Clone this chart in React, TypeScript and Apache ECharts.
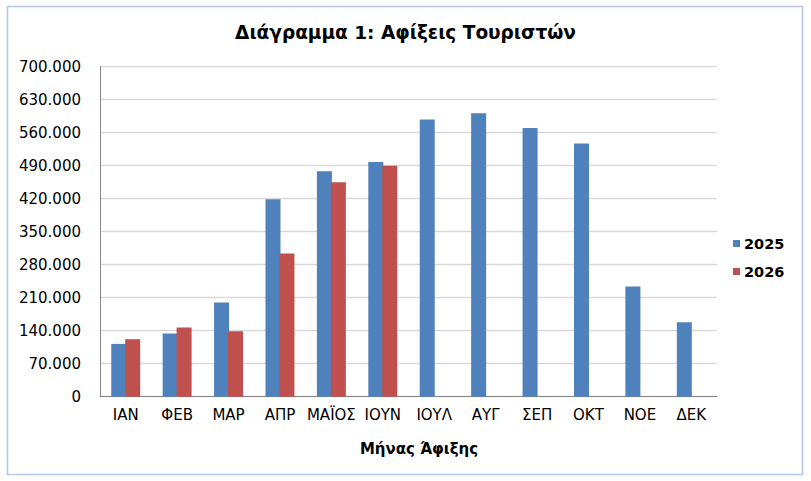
import React, { useEffect, useRef } from "react";
import * as echarts from "echarts";

const months = ["ΙΑΝ", "ΦΕΒ", "ΜΑΡ", "ΑΠΡ", "ΜΑΪΟΣ", "ΙΟΥΝ", "ΙΟΥΛ", "ΑΥΓ", "ΣΕΠ", "ΟΚΤ", "ΝΟΕ", "ΔΕΚ"];
const arrivals2025 = [112000, 134000, 200000, 419000, 478000, 498000, 588000, 601000, 570000, 537000, 234000, 158000];
const arrivals2026: (number | null)[] = [122000, 147000, 139000, 304000, 455000, 490000, null, null, null, null, null, null];
const seriesNames = ["2025", "2026"];
const chartTitle = "Διάγραμμα 1: Αφίξεις Τουριστών";
const xAxisTitle = "Μήνας Άφιξης";

const fmt = (v: number) => String(v).replace(/\B(?=(\d{3})+(?!\d))/g, ".");

export default function App() {
  const ref = useRef<HTMLDivElement>(null);
  useEffect(() => {
    if (!ref.current) return;
    const chart = echarts.init(ref.current, null, { renderer: "svg" });
    const font = "'DejaVu Sans', Verdana, sans-serif";
    chart.setOption({
      animation: false,
      backgroundColor: "#ffffff",
      textStyle: { fontFamily: font },
      title: {
        text: chartTitle,
        left: "center",
        top: 18,
        textStyle: { fontFamily: font, fontSize: 18.5, fontWeight: "bold", color: "#000" },
      },
      legend: {
        orient: "vertical",
        left: 728,
        top: 231,
        itemWidth: 7,
        itemHeight: 7,
        itemGap: 13,
        icon: "rect",
        textStyle: { fontFamily: font, fontSize: 14.5, fontWeight: "bold", color: "#000", padding: [0, 0, 0, -1] },
        data: seriesNames,
      },
      grid: { left: 100, right: 94, top: 66.7, bottom: 84.3, containLabel: false },
      xAxis: {
        type: "category",
        data: months,
        axisLine: { lineStyle: { color: "#868686", width: 1 } },
        axisTick: { show: false },
        axisLabel: { fontFamily: font, fontSize: 15, color: "#000", margin: 11, interval: 0 },
      },
      yAxis: {
        type: "value",
        min: 0,
        max: 700000,
        interval: 70000,
        axisLine: { show: true, lineStyle: { color: "#868686", width: 1 } },
        axisTick: { show: false },
        splitLine: { lineStyle: { color: "#d9d9d9", width: 1.3 } },
        axisLabel: { fontFamily: font, fontSize: 15, color: "#000", margin: 19, formatter: (v: number) => fmt(v) },
      },
      series: [
        {
          name: seriesNames[0],
          type: "bar",
          data: arrivals2025,
          barWidth: 15,
          barGap: "-7%",
          itemStyle: { color: "#4F81BD" },
        },
        {
          name: seriesNames[1],
          type: "bar",
          data: arrivals2026,
          barWidth: 15,
          itemStyle: { color: "#C0504D" },
        },
      ],
      graphic: [
        {
          type: "rect",
          left: 5,
          top: 4,
          shape: { width: 795, height: 468 },
          style: { fill: "none", stroke: "#b7c9e2", lineWidth: 1.6 },
          silent: true,
          z: -1,
        },
        {
          type: "text",
          x: 419,
          y: 449,
          style: {
            text: xAxisTitle,
            fontFamily: font,
            fontSize: 15,
            fontWeight: "bold",
            fill: "#000",
            textAlign: "center",
            textVerticalAlign: "middle",
          },
        },
      ],
    });
    return () => chart.dispose();
  }, []);
  return <div ref={ref} style={{ position: "fixed", left: 0, top: 0, width: 811, height: 481 }} />;
}
